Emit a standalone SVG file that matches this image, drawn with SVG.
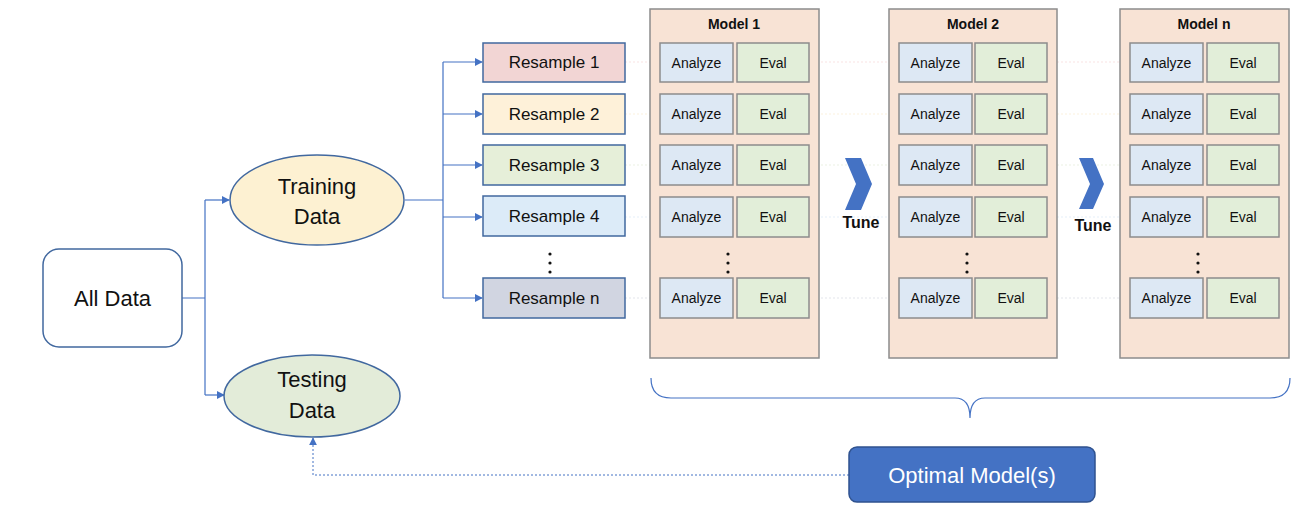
<svg xmlns="http://www.w3.org/2000/svg" width="1306" height="520" viewBox="0 0 1306 520">
  <defs>
    <marker id="arrow" viewBox="0 0 10 10" refX="9" refY="5" markerWidth="8" markerHeight="8" markerUnits="userSpaceOnUse" orient="auto">
      <path d="M0,0 L10,5 L0,10 z" fill="#4472c4"/>
    </marker>
  </defs>
  <style>
    .txt { font-family: "Liberation Sans", Arial, sans-serif; fill: #111; text-anchor: middle; dominant-baseline: central; }
    .big { font-size: 22px; }
    .res { font-size: 17px; }
    .cell { font-size: 14px; }
    .bold { font-weight: bold; }
    .conn { fill: none; stroke: #4472c4; stroke-width: 1.2; }
    .dotted { fill: none; stroke: #4472c4; stroke-width: 1; stroke-dasharray: 2 2; }
    .guide { fill: none; stroke-width: 1; stroke-dasharray: 2 2; opacity: 0.3; }
    .resbox { stroke: #41689f; stroke-width: 1.5; }
    .panel { fill: #f8e3d5; stroke: #8c8c8c; stroke-width: 1.5; }
    .an { fill: #dde8f4; stroke: #8c8c8c; stroke-width: 1.5; }
    .ev { fill: #e2eed9; stroke: #8c8c8c; stroke-width: 1.5; }
    .dot { fill: #111; }
    .chev { fill: #4472c4; }
  </style>

  <!-- faint guide lines running across each resample row -->
  <g id="guides">
    <line class="guide" x1="625" y1="62" x2="1290" y2="62" stroke="#e8a0a0"/>
    <line class="guide" x1="625" y1="114" x2="1290" y2="114" stroke="#f0d090"/>
    <line class="guide" x1="625" y1="165" x2="1290" y2="165" stroke="#b8d0a0"/>
    <line class="guide" x1="625" y1="217" x2="1290" y2="217" stroke="#a8c8e8"/>
    <line class="guide" x1="625" y1="298" x2="1290" y2="298" stroke="#a0a8b8"/>
  </g>

  <!-- model panels -->
  <g id="model1">
    <rect class="panel" x="650" y="9" width="169" height="349"/>
    <text class="txt cell bold" x="734" y="24" style="font-size:14px">Model 1</text>
    <rect class="an" x="660" y="43" width="73" height="39"/><text class="txt cell" x="696.5" y="62.5">Analyze</text>
    <rect class="ev" x="737" y="43" width="72" height="39"/><text class="txt cell" x="773" y="62.5">Eval</text>
    <rect class="an" x="660" y="94" width="73" height="40"/><text class="txt cell" x="696.5" y="114">Analyze</text>
    <rect class="ev" x="737" y="94" width="72" height="40"/><text class="txt cell" x="773" y="114">Eval</text>
    <rect class="an" x="660" y="145" width="73" height="40"/><text class="txt cell" x="696.5" y="165">Analyze</text>
    <rect class="ev" x="737" y="145" width="72" height="40"/><text class="txt cell" x="773" y="165">Eval</text>
    <rect class="an" x="660" y="197" width="73" height="40"/><text class="txt cell" x="696.5" y="217">Analyze</text>
    <rect class="ev" x="737" y="197" width="72" height="40"/><text class="txt cell" x="773" y="217">Eval</text>
    <circle class="dot" cx="728" cy="254" r="1.6"/><circle class="dot" cx="728" cy="263" r="1.6"/><circle class="dot" cx="728" cy="272" r="1.6"/>
    <rect class="an" x="660" y="278" width="73" height="40"/><text class="txt cell" x="696.5" y="298">Analyze</text>
    <rect class="ev" x="737" y="278" width="72" height="40"/><text class="txt cell" x="773" y="298">Eval</text>
  </g>

  <g id="model2">
    <rect class="panel" x="889" y="9" width="168" height="349"/>
    <text class="txt cell bold" x="973" y="24" style="font-size:14px">Model 2</text>
    <rect class="an" x="899" y="43" width="73" height="39"/><text class="txt cell" x="935.5" y="62.5">Analyze</text>
    <rect class="ev" x="975" y="43" width="72" height="39"/><text class="txt cell" x="1011" y="62.5">Eval</text>
    <rect class="an" x="899" y="94" width="73" height="40"/><text class="txt cell" x="935.5" y="114">Analyze</text>
    <rect class="ev" x="975" y="94" width="72" height="40"/><text class="txt cell" x="1011" y="114">Eval</text>
    <rect class="an" x="899" y="145" width="73" height="40"/><text class="txt cell" x="935.5" y="165">Analyze</text>
    <rect class="ev" x="975" y="145" width="72" height="40"/><text class="txt cell" x="1011" y="165">Eval</text>
    <rect class="an" x="899" y="197" width="73" height="40"/><text class="txt cell" x="935.5" y="217">Analyze</text>
    <rect class="ev" x="975" y="197" width="72" height="40"/><text class="txt cell" x="1011" y="217">Eval</text>
    <circle class="dot" cx="967" cy="254" r="1.6"/><circle class="dot" cx="967" cy="263" r="1.6"/><circle class="dot" cx="967" cy="272" r="1.6"/>
    <rect class="an" x="899" y="278" width="73" height="40"/><text class="txt cell" x="935.5" y="298">Analyze</text>
    <rect class="ev" x="975" y="278" width="72" height="40"/><text class="txt cell" x="1011" y="298">Eval</text>
  </g>

  <g id="modeln">
    <rect class="panel" x="1120" y="9" width="169" height="349"/>
    <text class="txt cell bold" x="1204" y="24" style="font-size:14px">Model n</text>
    <rect class="an" x="1130" y="43" width="73" height="39"/><text class="txt cell" x="1166.5" y="62.5">Analyze</text>
    <rect class="ev" x="1207" y="43" width="72" height="39"/><text class="txt cell" x="1243" y="62.5">Eval</text>
    <rect class="an" x="1130" y="94" width="73" height="40"/><text class="txt cell" x="1166.5" y="114">Analyze</text>
    <rect class="ev" x="1207" y="94" width="72" height="40"/><text class="txt cell" x="1243" y="114">Eval</text>
    <rect class="an" x="1130" y="145" width="73" height="40"/><text class="txt cell" x="1166.5" y="165">Analyze</text>
    <rect class="ev" x="1207" y="145" width="72" height="40"/><text class="txt cell" x="1243" y="165">Eval</text>
    <rect class="an" x="1130" y="197" width="73" height="40"/><text class="txt cell" x="1166.5" y="217">Analyze</text>
    <rect class="ev" x="1207" y="197" width="72" height="40"/><text class="txt cell" x="1243" y="217">Eval</text>
    <circle class="dot" cx="1198" cy="254" r="1.6"/><circle class="dot" cx="1198" cy="263" r="1.6"/><circle class="dot" cx="1198" cy="272" r="1.6"/>
    <rect class="an" x="1130" y="278" width="73" height="40"/><text class="txt cell" x="1166.5" y="298">Analyze</text>
    <rect class="ev" x="1207" y="278" width="72" height="40"/><text class="txt cell" x="1243" y="298">Eval</text>
  </g>

  <!-- tuning chevrons between models -->
  <g id="tune1">
    <polygon class="chev" points="845,158 861,158 872,184 861,210 845,210 856,184"/>
    <text class="txt bold" x="861" y="222" style="font-size:16px">Tune</text>
  </g>
  <g id="tune2">
    <polygon class="chev" points="1079,158 1093,158 1104,184 1093,209 1079,209 1090,184"/>
    <text class="txt bold" x="1093" y="225" style="font-size:16px">Tune</text>
  </g>

  <!-- connectors -->
  <g id="connectors">
    <path class="conn" d="M182,298 H205 M205,200 V395"/>
    <path class="conn" d="M205,200 H229" marker-end="url(#arrow)"/>
    <path class="conn" d="M205,395 H224" marker-end="url(#arrow)"/>
    <path class="conn" d="M405,200 H443 M443,62 V298"/>
    <path class="conn" d="M443,62 H482" marker-end="url(#arrow)"/>
    <path class="conn" d="M443,114 H482" marker-end="url(#arrow)"/>
    <path class="conn" d="M443,165 H482" marker-end="url(#arrow)"/>
    <path class="conn" d="M443,217 H482" marker-end="url(#arrow)"/>
    <path class="conn" d="M443,298 H482" marker-end="url(#arrow)"/>
    <!-- brace grouping the models -->
    <path class="conn" d="M651,378 Q651,398 671,398 H955 Q970,398 970,418 Q970,398 985,398 H1270 Q1290,398 1290,378" stroke-width="1"/>
    <!-- feedback to testing data -->
    <path class="dotted" d="M849,475 H313 V438" marker-end="url(#arrow)"/>
  </g>

  <g id="all-data">
    <rect x="43" y="249" width="139" height="98" rx="16" fill="#fff" stroke="#41689f" stroke-width="1.5"/>
    <text class="txt big" x="112.5" y="298">All Data</text>
  </g>

  <g id="training-data">
    <ellipse cx="317" cy="200" rx="87" ry="45" fill="#fdf1d2" stroke="#41689f" stroke-width="1.5"/>
    <text class="txt big" x="317" y="186">Training</text>
    <text class="txt big" x="317" y="216">Data</text>
  </g>

  <g id="testing-data">
    <ellipse cx="312" cy="396" rx="88" ry="41" fill="#e3ecd9" stroke="#41689f" stroke-width="1.5"/>
    <text class="txt big" x="312" y="379">Testing</text>
    <text class="txt big" x="312" y="410">Data</text>
  </g>

  <g id="resample1">
    <rect class="resbox" x="483" y="43" width="142" height="39" fill="#f2d5d4"/>
    <text class="txt res" x="554" y="62.5">Resample 1</text>
  </g>
  <g id="resample2">
    <rect class="resbox" x="483" y="94" width="142" height="40" fill="#fef1d9"/>
    <text class="txt res" x="554" y="114">Resample 2</text>
  </g>
  <g id="resample3">
    <rect class="resbox" x="483" y="145" width="142" height="40" fill="#e6efd9"/>
    <text class="txt res" x="554" y="165">Resample 3</text>
  </g>
  <g id="resample4">
    <rect class="resbox" x="483" y="196" width="142" height="40" fill="#dcebf8"/>
    <text class="txt res" x="554" y="216">Resample 4</text>
  </g>
  <g id="resample-dots">
    <circle class="dot" cx="550" cy="254" r="1.6"/><circle class="dot" cx="550" cy="263" r="1.6"/><circle class="dot" cx="550" cy="272" r="1.6"/>
  </g>
  <g id="resamplen">
    <rect class="resbox" x="483" y="278" width="142" height="40" fill="#d1d5e1"/>
    <text class="txt res" x="554" y="298">Resample n</text>
  </g>

  <g id="optimal-models">
    <rect x="849" y="447" width="246" height="55" rx="8" fill="#4472c4" stroke="#2f528f" stroke-width="1.5"/>
    <text class="txt" x="972" y="475" style="font-size:22px;fill:#fff">Optimal Model(s)</text>
  </g>
</svg>
